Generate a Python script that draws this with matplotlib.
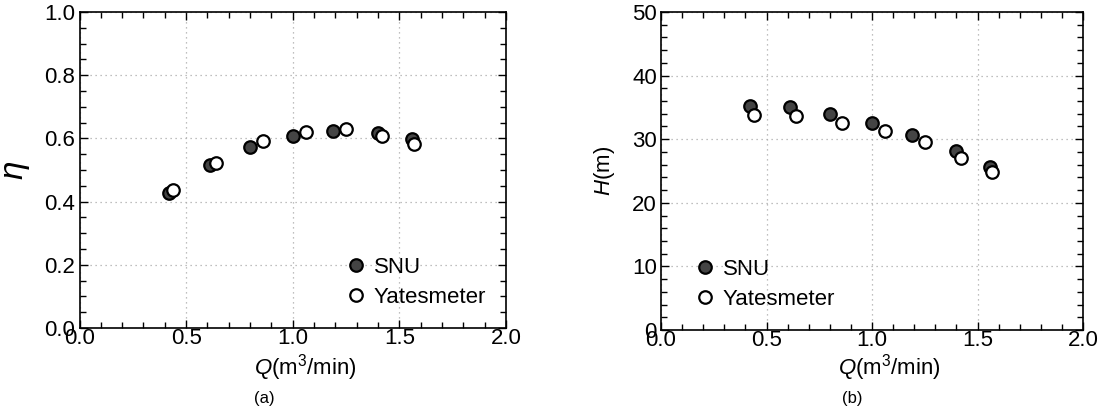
import numpy as np
import matplotlib
matplotlib.use('Agg')
from matplotlib import pyplot as plt
from matplotlib.ticker import MultipleLocator, FormatStrFormatter

plt.rcParams['font.family'] = ['Liberation Sans', 'DejaVu Sans']
plt.rcParams['mathtext.fontset'] = 'custom'
plt.rcParams['mathtext.rm'] = 'Liberation Sans'
plt.rcParams['mathtext.it'] = 'Liberation Sans:italic'

# data
q_snu = [0.42, 0.61, 0.80, 1.00, 1.19, 1.40, 1.56]
q_yates = [0.44, 0.64, 0.86, 1.06, 1.25, 1.42, 1.57]
eta_snu = [0.426, 0.515, 0.574, 0.609, 0.624, 0.617, 0.597]
eta_yates = [0.437, 0.523, 0.591, 0.620, 0.630, 0.609, 0.583]
h_snu = [35.2, 35.0, 33.9, 32.6, 30.7, 28.1, 25.7]
h_yates = [33.8, 33.6, 32.6, 31.3, 29.5, 27.1, 24.9]

fig = plt.figure(figsize=(11.09, 4.07), dpi=100)
ax1 = fig.add_axes([79.5 / 1109, 1 - 328 / 407, (506 - 79.5) / 1109, (328 - 12) / 407])
ax2 = fig.add_axes([661 / 1109, 1 - 330 / 407, (1083 - 661) / 1109, (330 - 12) / 407])

def style(ax, ymax, ymajor, yminor):
    ax.set_xlim(0, 2.0)
    ax.set_ylim(0, ymax)
    ax.xaxis.set_major_locator(MultipleLocator(0.5))
    ax.xaxis.set_minor_locator(MultipleLocator(0.1))
    ax.yaxis.set_major_locator(MultipleLocator(ymajor))
    ax.yaxis.set_minor_locator(MultipleLocator(yminor))
    ax.xaxis.set_major_formatter(FormatStrFormatter('%.1f'))
    ax.tick_params(which='both', direction='in', top=True, right=True, labelsize=16)
    ax.tick_params(which='major', length=6, width=1)
    ax.tick_params(which='minor', length=4, width=1)
    ax.tick_params(axis='x', pad=0)
    ax.tick_params(axis='y', pad=3)
    ax.grid(True, which='major', linestyle=(0, (1, 3)), color='#aaaaaa', linewidth=0.9)
    for s in ax.spines.values():
        s.set_linewidth(1.2)
    ax.set_xlabel(r'$\mathit{Q}$(m$^3$/min)', fontsize=16)

mk = dict(marker='o', markersize=9, markeredgewidth=1.6, linestyle='none', markeredgecolor='black')

ax1.plot(q_snu, eta_snu, markerfacecolor='#444444', label='SNU', **mk)
ax1.plot(q_yates, eta_yates, markerfacecolor='white', label='Yatesmeter', **mk)
style(ax1, 1.0, 0.2, 0.05)
ax1.yaxis.set_major_formatter(FormatStrFormatter('%.1f'))
ax1.set_ylabel(r'$\eta$', fontsize=24, va='center')
ax1.yaxis.set_label_coords(-0.147, 0.5)
ax1.xaxis.set_label_coords(0.53, -0.077)
ax1.legend(loc='lower right', frameon=False, fontsize=16, handletextpad=0.3,
           borderaxespad=0.5, labelspacing=0.4, handlelength=1.0)

ax2.plot(q_snu, h_snu, markerfacecolor='#444444', label='SNU', **mk)
ax2.plot(q_yates, h_yates, markerfacecolor='white', label='Yatesmeter', **mk)
style(ax2, 50, 10, 2)
ax2.set_ylabel(r'$\mathit{H}$(m)', fontsize=16, va='center')
ax2.yaxis.set_label_coords(-0.135, 0.5)
ax2.xaxis.set_label_coords(0.54, -0.071)
ax2.legend(loc='lower left', frameon=False, fontsize=16, handletextpad=0.3,
           bbox_to_anchor=(0.03, 0.0), borderaxespad=0.5, labelspacing=0.4, handlelength=1.0)

fig.text(264 / 1109, 1 - 398 / 407, '(a)', ha='center', va='center', fontsize=12)
fig.text(852 / 1109, 1 - 398 / 407, '(b)', ha='center', va='center', fontsize=12)

fig.savefig('out.png', dpi=100)
